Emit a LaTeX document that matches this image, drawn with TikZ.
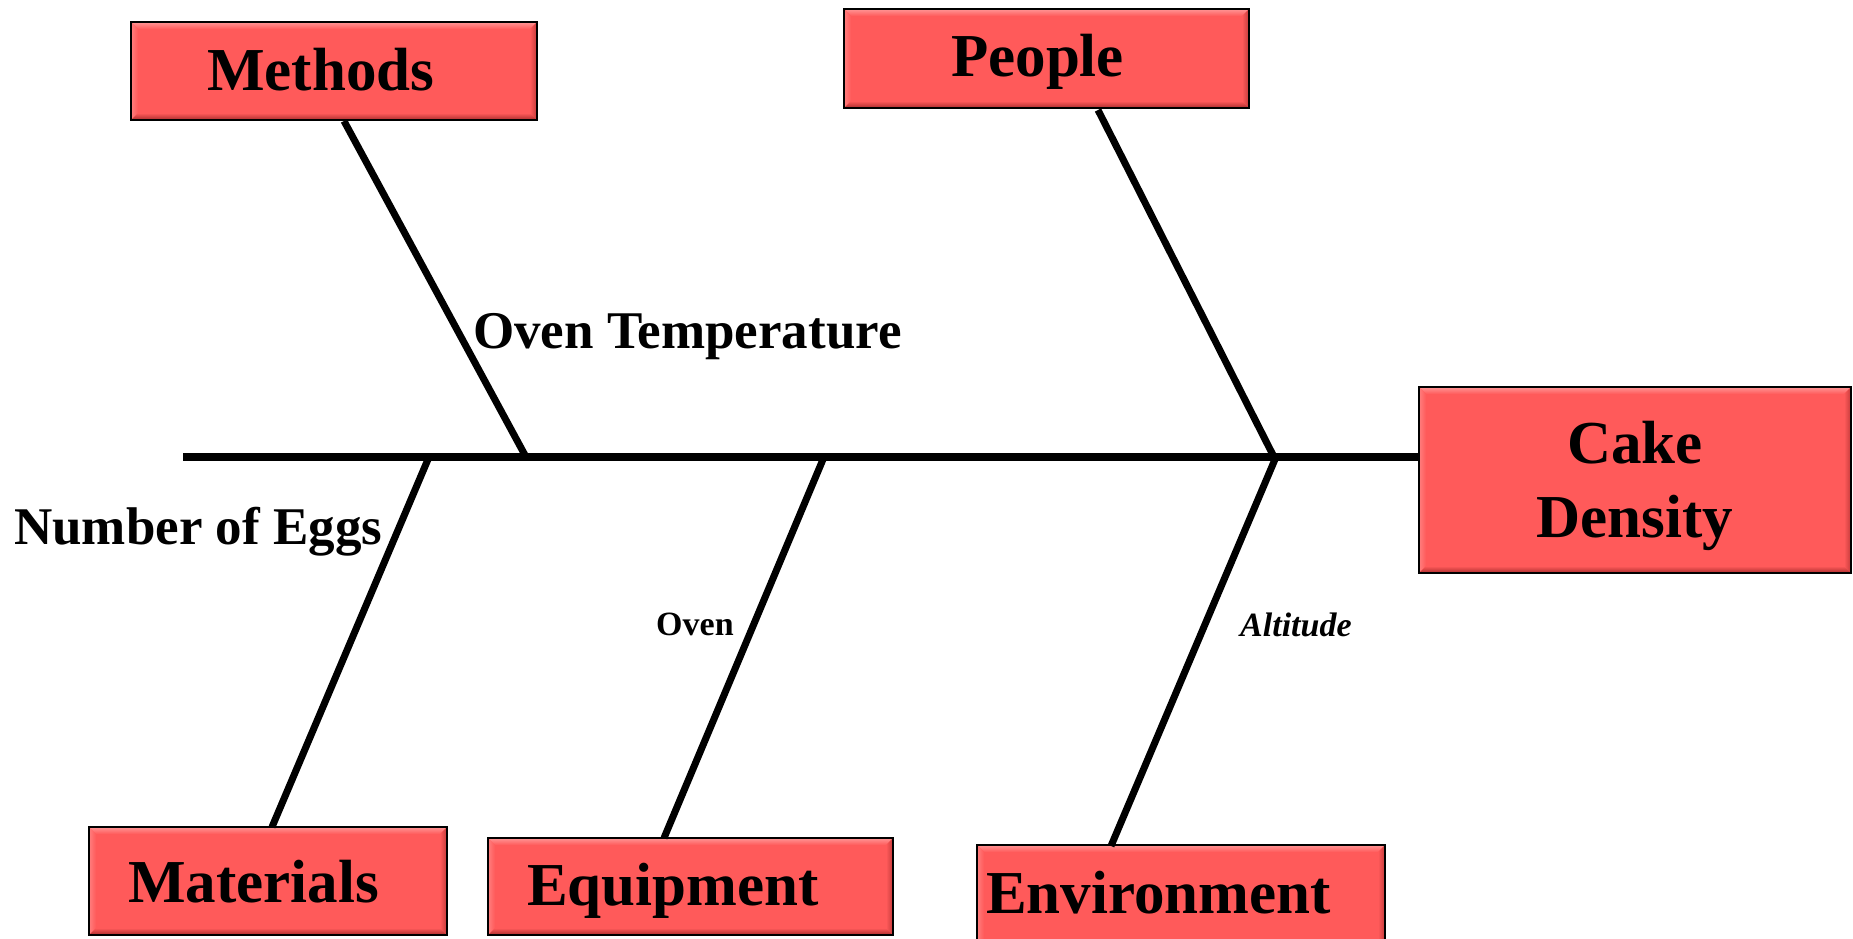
\documentclass[tikz,border=0pt]{standalone}
\usepackage{fontspec}
\setmainfont{Liberation Serif}
\usetikzlibrary{calc}
\definecolor{boxred}{RGB}{255,90,90}
\definecolor{bevhi}{RGB}{255,150,150}
\definecolor{bevlo}{RGB}{170,45,45}

% raised, bevelled look for a cause box
\newcommand\bevelbox[1]{%
  \shade[top color=bevhi, bottom color=boxred]
    (#1.north west) -- (#1.north east) -- ([shift={(-7pt,-7pt)}]#1.north east)
    -- ([shift={(7pt,-7pt)}]#1.north west) -- cycle;
  \shade[left color=bevhi!60!boxred, right color=boxred]
    (#1.north west) -- ([shift={(7pt,-7pt)}]#1.north west)
    -- ([shift={(7pt,7pt)}]#1.south west) -- (#1.south west) -- cycle;
  \shade[top color=boxred, bottom color=bevlo]
    (#1.south west) -- ([shift={(7pt,7pt)}]#1.south west)
    -- ([shift={(-7pt,7pt)}]#1.south east) -- (#1.south east) -- cycle;
  \shade[left color=boxred, right color=bevlo!70!boxred]
    (#1.north east) -- ([shift={(-7pt,-7pt)}]#1.north east)
    -- ([shift={(-7pt,7pt)}]#1.south east) -- (#1.south east) -- cycle;
  \draw[line width=2.5pt] (#1.north west) rectangle (#1.south east);
}

\begin{document}
\begin{tikzpicture}[x=1pt,y=-1pt,
  causebox/.style={fill=boxred, inner sep=0pt, outer sep=0pt, anchor=north west},
  boxtext/.style={font=\fontsize{61}{74}\selectfont\bfseries, inner sep=0pt, anchor=base west},
  causetext/.style={font=\fontsize{53}{60}\selectfont\bfseries, inner sep=0pt, anchor=base west},
  smalltext/.style={font=\fontsize{34}{40}\selectfont\bfseries, inner sep=0pt, anchor=base west},
  spineline/.style={line width=8.5pt},
  bone/.style={line width=7pt}]
\useasboundingbox (0,0) rectangle (1853,939);
\clip (0,0) rectangle (1853,939);

% boxes
\node[causebox, minimum width=406pt, minimum height=98pt] (methods) at (131,22) {};
\node[causebox, minimum width=405pt, minimum height=99pt] (people) at (844,9) {};
\node[causebox, minimum width=432pt, minimum height=186pt] (effect) at (1419,387) {};
\node[causebox, minimum width=358pt, minimum height=108pt] (materials) at (89,827) {};
\node[causebox, minimum width=405pt, minimum height=97pt] (equipment) at (488,838) {};
\node[causebox, minimum width=408pt, minimum height=130pt] (environment) at (977,845) {};
\foreach \b in {methods,people,effect,materials,equipment,environment} {\bevelbox{\b}}

% box titles
\node[boxtext] (methods-t) at (207,91) {Methods};
\node[boxtext] (people-t) at (951,77) {People};
\node[boxtext] (materials-t) at (128,902) {Materials};
\node[boxtext] (equipment-t) at (527,905) {Equipment};
\node[boxtext] (environment-t) at (986,913) {Environment};
\node[boxtext, anchor=base] (effect-t1) at (1635,463) {Cake};
\node[boxtext, anchor=base] (effect-t2) at (1635,537) {Density};

% spine
\coordinate (tail) at (183,457);
\draw[spineline] (tail) -- (tail -| effect.west);

% junctions on the spine
\coordinate (jm) at (526,457);
\coordinate (jp) at (1274,457);
\coordinate (jmat) at (429,457);
\coordinate (jeq) at (824,457);
\coordinate (jenv) at (1276,457);

% bone ends at the boxes
\coordinate (bm) at (344,121);
\coordinate (bp) at (1098,110);
\coordinate (bmat) at (272,827);
\coordinate (beq) at (664,838);
\coordinate (benv) at (1111,846);

\draw[bone] (bm) -- (jm);
\draw[bone] (bp) -- (jp);
\draw[bone] (jmat) -- (bmat);
\draw[bone] (jeq) -- (beq);
\draw[bone] (jenv) -- (benv);

% causes
\node[causetext] (c1) at (473,348) {Oven Temperature};
\node[causetext] (c2) at (14,544) {Number of Eggs};
\node[smalltext] (c3) at (656,635) {Oven};
\node[smalltext, font=\fontsize{34}{40}\selectfont\bfseries\itshape] (c4) at (1240,636) {Altitude};
\end{tikzpicture}
\end{document}
